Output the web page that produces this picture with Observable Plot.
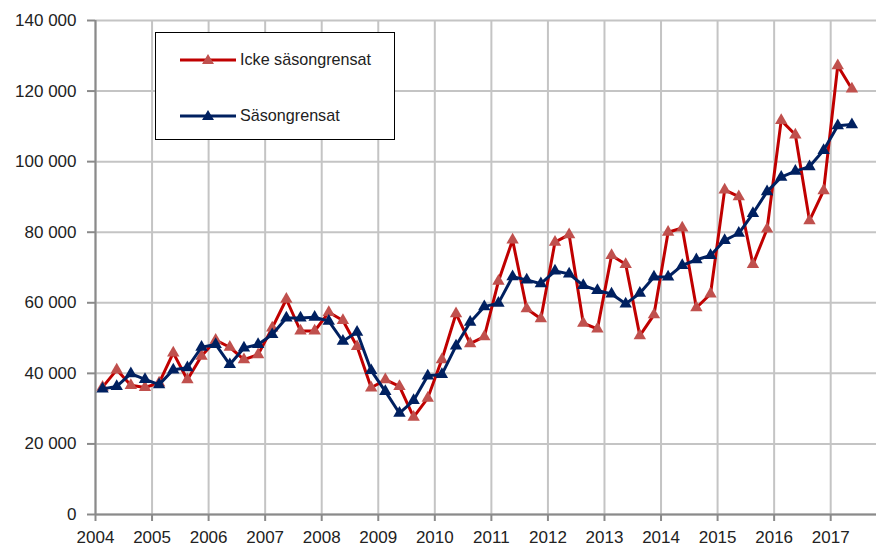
<!DOCTYPE html>
<html><head><meta charset="utf-8">
<script src="https://cdn.jsdelivr.net/npm/d3@7"></script>
<script src="https://cdn.jsdelivr.net/npm/@observablehq/plot@0.6"></script>
<style>
body{margin:0;background:#fff;}
#wrap{position:relative;width:876px;height:549px;overflow:hidden;}
.legend{position:absolute;left:155px;top:32px;width:238px;height:106px;border:1.5px solid #000;background:#fff;font-family:"Liberation Sans",Arial,sans-serif;font-size:17px;color:#222;white-space:nowrap;}
.legend .item{position:absolute;left:24px;display:flex;align-items:center;}
.legend .item span{margin-left:4px;display:inline-block;transform:scaleX(0.95);transform-origin:left center;}
</style></head>
<body><div id="wrap"></div>
<script>
// Quarterly periods 2004K1 – 2017K2
const periods = [
 "2004K1","2004K2","2004K3","2004K4","2005K1","2005K2","2005K3","2005K4",
 "2006K1","2006K2","2006K3","2006K4","2007K1","2007K2","2007K3","2007K4",
 "2008K1","2008K2","2008K3","2008K4","2009K1","2009K2","2009K3","2009K4",
 "2010K1","2010K2","2010K3","2010K4","2011K1","2011K2","2011K3","2011K4",
 "2012K1","2012K2","2012K3","2012K4","2013K1","2013K2","2013K3","2013K4",
 "2014K1","2014K2","2014K3","2014K4","2015K1","2015K2","2015K3","2015K4",
 "2016K1","2016K2","2016K3","2016K4","2017K1","2017K2"];
const ickeSasongrensat = [
 36100,41000,36600,36000, 37300,45800,38200,44900,
 49400,47400,43900,45300, 52900,61000,52000,52000,
 57300,55000,47600,35900, 38200,36300,27600,33000,
 43900,56900,48400,50400, 66100,77800,58300,55500,
 77200,79300,54200,52600, 73400,70900,50700,56600,
 80000,81200,58600,62500, 92000,90100,70900,80900,
 111700,107600,83300,91800, 127200,120600];
const sasongrensat = [
 35600,36300,39900,38300, 36800,41000,41600,47400,
 48200,42500,47200,48200, 51000,55700,55700,55900,
 54800,49100,51700,40800, 34900,28700,32300,39300,
 39700,47800,54500,58900, 59900,67400,66500,65400,
 69000,68200,64900,63500, 62500,59700,62700,67300,
 67300,70600,72200,73400, 77700,79700,85300,91500,
 95600,97300,98600,103200, 110200,110500];
const seriesNames = ["Icke säsongrensat","Säsongrensat"];
const xTicks = [2004,2005,2006,2007,2008,2009,2010,2011,2012,2013,2014,2015,2016,2017];
const yTicks = [0,20000,40000,60000,80000,100000,120000,140000];

const toX = p => +p.slice(0,4) + (+p.slice(5) - 1) / 4 + 0.125;
const red = periods.map((p,i)=>({x:toX(p), y:ickeSasongrensat[i]}));
const blue = periods.map((p,i)=>({x:toX(p), y:sasongrensat[i]}));
const fmt = d => d3.format(",")(d).replace(/,/g, " ");

const FONT = '"Liberation Sans",Arial,sans-serif';
const chart = Plot.plot({
  width: 876, height: 549,
  marginLeft: 95, marginRight: 0, marginTop: 20, marginBottom: 35,
  style: {fontFamily: FONT, fontSize: "17px", color: "#222", background: "#fff"},
  x: {domain: [2004, 2017.81]},
  y: {domain: [0, 140000]},
  marks: [
    Plot.gridX(xTicks, {stroke: "#c4c4c4", strokeOpacity: 1, strokeWidth: 2}),
    Plot.gridY(yTicks, {stroke: "#c4c4c4", strokeOpacity: 1, strokeWidth: 2}),
    Plot.axisX(xTicks, {tickFormat: d => String(d), tickSize: 7, tickPadding: 9, stroke: "#8a8a8a", fill: "#222", strokeWidth: 2, label: null}),
    Plot.axisY(yTicks, {tickFormat: fmt, tickSize: 8, tickPadding: 11, stroke: "#8a8a8a", fill: "#222", strokeWidth: 2, label: null}),
    Plot.ruleY([0], {stroke: "#8a8a8a", strokeWidth: 2}),
    Plot.ruleX([2004], {stroke: "#8a8a8a", strokeWidth: 2}),
    Plot.line(red, {x: "x", y: "y", stroke: "#c00000", strokeWidth: 3}),
    Plot.dot(red, {x: "x", y: "y", symbol: "triangle", r: 4.6, fill: "#c0504d", stroke: null}),
    Plot.line(blue, {x: "x", y: "y", stroke: "#002060", strokeWidth: 3}),
    Plot.dot(blue, {x: "x", y: "y", symbol: "triangle", r: 4.6, fill: "#002060", stroke: null})
  ]
});
const wrap = document.getElementById("wrap");
wrap.appendChild(chart);

const legend = document.createElement("div");
legend.className = "legend";
const sw = (line, mark) => `<svg width="56" height="14"><line x1="0" y1="7" x2="56" y2="7" stroke="${line}" stroke-width="3"/><path d="M28,1 L34,11 L22,11 Z" fill="${mark}"/></svg>`;
legend.innerHTML =
  `<div class="item" style="top:17px">${sw("#c00000","#c0504d")}<span>${seriesNames[0]}</span></div>` +
  `<div class="item" style="top:73px">${sw("#002060","#002060")}<span>${seriesNames[1]}</span></div>`;
wrap.appendChild(legend);
</script>
</body></html>
